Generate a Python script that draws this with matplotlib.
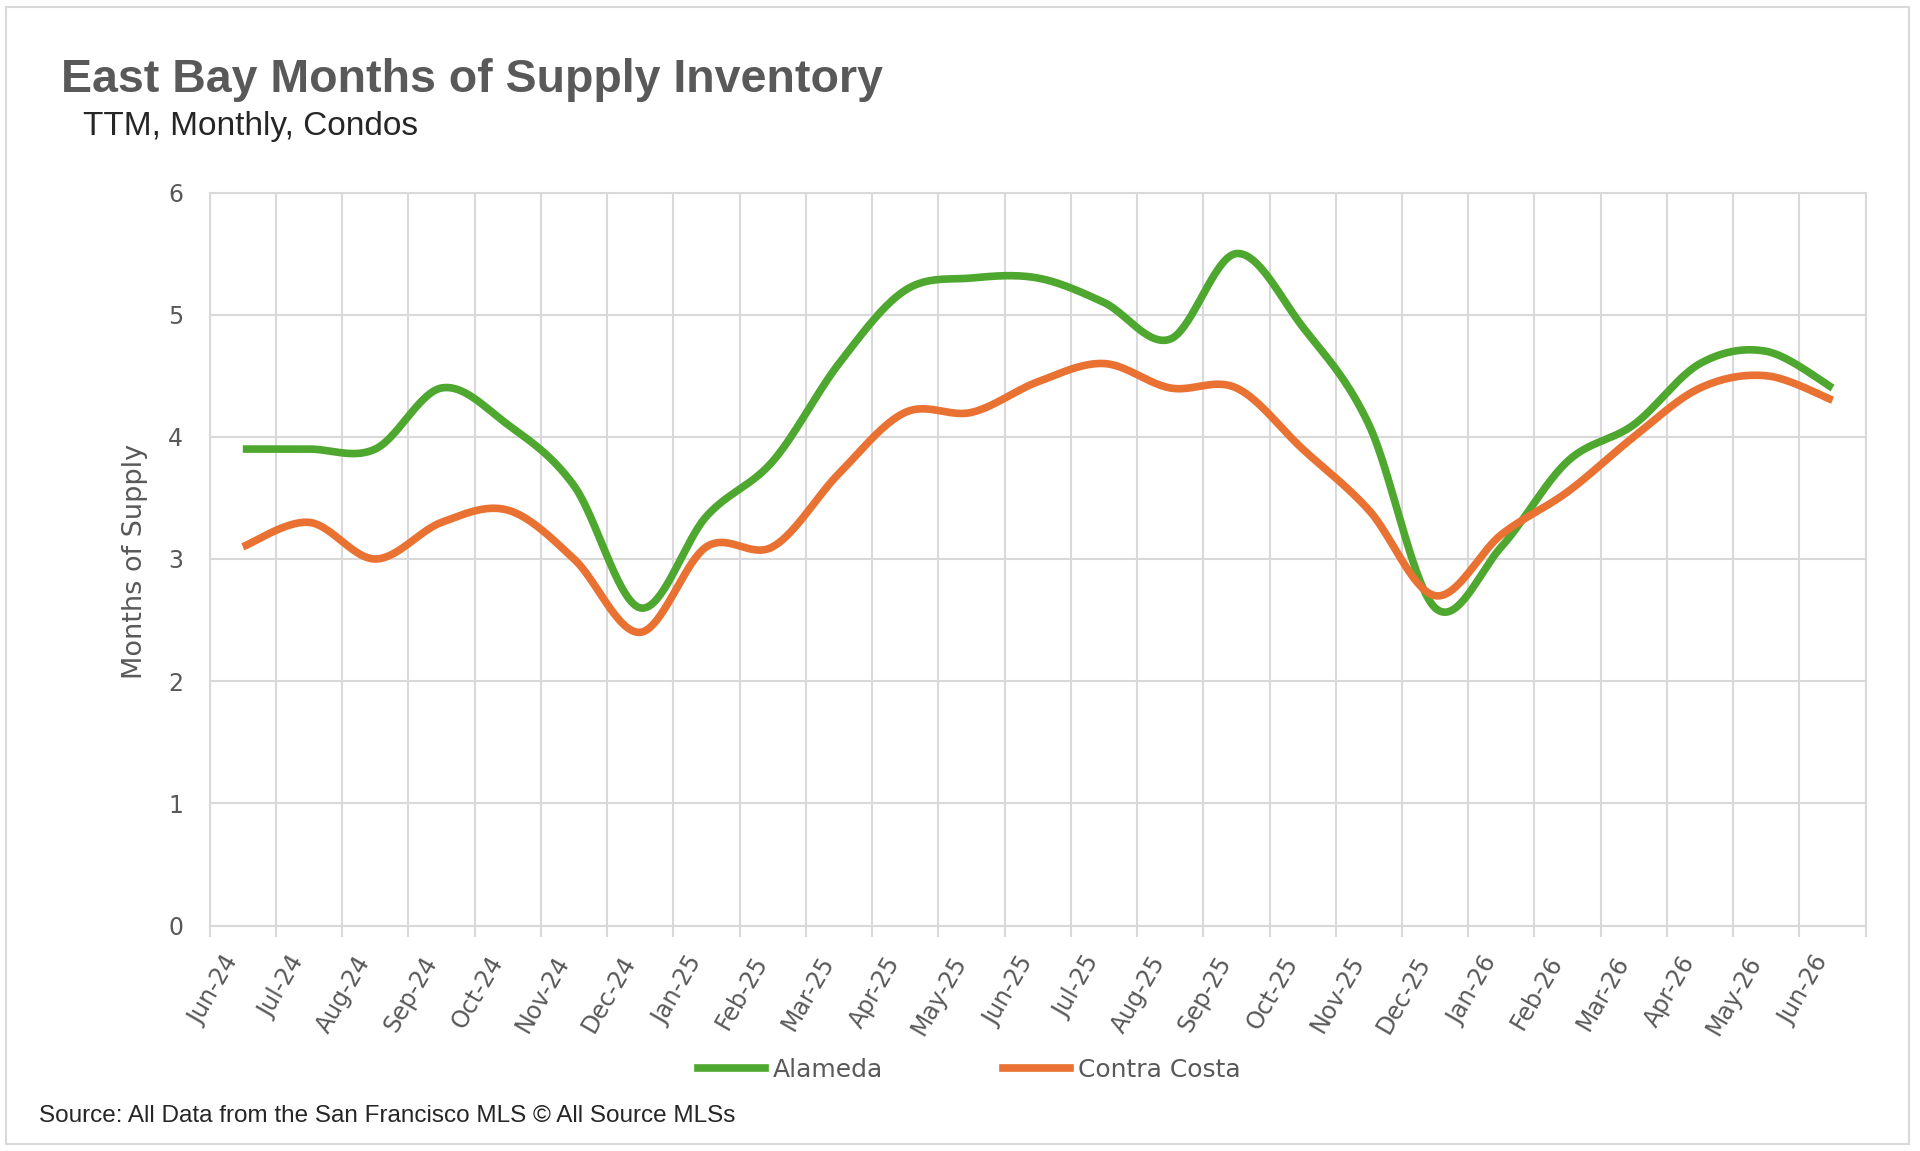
import numpy as np
import matplotlib
matplotlib.use('Agg')
import matplotlib.pyplot as plt
import matplotlib.transforms as mtransforms
from matplotlib.patches import Rectangle
from matplotlib.lines import Line2D

# ---------------- data ----------------
months = ['Jun-24', 'Jul-24', 'Aug-24', 'Sep-24', 'Oct-24', 'Nov-24', 'Dec-24',
          'Jan-25', 'Feb-25', 'Mar-25', 'Apr-25', 'May-25', 'Jun-25', 'Jul-25',
          'Aug-25', 'Sep-25', 'Oct-25', 'Nov-25', 'Dec-25', 'Jan-26', 'Feb-26',
          'Mar-26', 'Apr-26', 'May-26', 'Jun-26']
alameda = [3.9, 3.9, 3.9, 4.4, 4.1, 3.6, 2.6, 3.35, 3.8, 4.6, 5.2, 5.3, 5.3,
           5.1, 4.8, 5.5, 4.9, 4.1, 2.6, 3.1, 3.8, 4.1, 4.6, 4.7, 4.4]
contra_costa = [3.1, 3.3, 3.0, 3.3, 3.4, 3.0, 2.4, 3.1, 3.1, 3.7, 4.2, 4.2, 4.45,
                4.6, 4.4, 4.4, 3.9, 3.4, 2.7, 3.2, 3.55, 4.0, 4.4, 4.5, 4.3]
series_names = ['Alameda', 'Contra Costa']
yticks = [0, 1, 2, 3, 4, 5, 6]

title = 'East Bay Months of Supply Inventory'
subtitle = 'TTM, Monthly, Condos'
ylabel = 'Months of Supply'
source = 'Source: All Data from the San Francisco MLS \u00a9 All Source MLSs'

# ---------------- style ----------------
GREEN = '#4EA72E'
ORANGE = '#E97132'
GRID = '#d9d9d9'
TXT = '#595959'
W, H = 1920, 1151


def smooth(values, n=40):
    """Excel-like smoothed line (Bezier through the data points)."""
    y = np.asarray(values, float)
    x = np.arange(len(y), dtype=float)
    pts = np.column_stack([x, y])
    P = np.vstack([pts[0], pts, pts[-1]])
    t = np.linspace(0, 1, n)[:, None]
    out = []
    for i in range(1, len(P) - 2):
        p0, p1, p2, p3 = P[i - 1], P[i], P[i + 1], P[i + 2]
        c1 = p1 + (p2 - p0) / 6.0
        c2 = p2 - (p3 - p1) / 6.0
        seg = ((1 - t) ** 3) * p1 + 3 * ((1 - t) ** 2) * t * c1 \
            + 3 * (1 - t) * t ** 2 * c2 + t ** 3 * p2
        out.append(seg if i == 1 else seg[1:])
    out = np.vstack(out)
    return out[:, 0], out[:, 1]


fig = plt.figure(figsize=(W / 100, H / 100), dpi=100)
fig.patch.set_facecolor('white')

# outer border
fig.add_artist(Rectangle((6 / W, 1 - 1144 / H), (1909 - 6) / W, (1144 - 7) / H,
                         transform=fig.transFigure, fill=False,
                         edgecolor=GRID, lw=1.5))

left, right, top, bottom = 209.7, 1865.7, 192.5, 925.5
ax = fig.add_axes([left / W, 1 - bottom / H, (right - left) / W, (bottom - top) / H])

n = len(months)
ax.set_xlim(-0.5, n - 0.5)
ax.set_ylim(yticks[0], yticks[-1])

xs, ys = smooth(alameda)
ax.plot(xs, ys, color=GREEN, lw=5.5, solid_capstyle='butt', zorder=3)
xs, ys = smooth(contra_costa)
ax.plot(xs, ys, color=ORANGE, lw=5.5, solid_capstyle='butt', zorder=4)

# ticks / grid
ax.set_xticks(np.arange(-0.5, n, 1.0))
ax.set_xticklabels([])
ax.set_xticks(np.arange(n), minor=True)
ax.set_xticklabels(months, minor=True, rotation=60, ha='right', va='top',
                   fontsize=17, color=TXT, family='DejaVu Sans')
shift = mtransforms.ScaledTranslation(12 / 100, 0, fig.dpi_scale_trans)
for lab in ax.get_xticklabels(minor=True):
    lab.set_transform(lab.get_transform() + shift)
ax.tick_params(axis='x', which='major', length=8, width=1.5, color=GRID,
               direction='out', labelbottom=False)
ax.tick_params(axis='x', which='minor', length=0, pad=19)
ax.set_yticks(yticks)
ax.set_yticklabels([str(v) for v in yticks], fontsize=17, color=TXT,
                   family='DejaVu Sans')
ax.tick_params(axis='y', length=0, pad=19)
ax.grid(axis='x', which='major', color=GRID, lw=1.5)
ax.grid(axis='y', which='major', color=GRID, lw=1.5)
ax.set_axisbelow(True)
for s in ax.spines.values():
    s.set_color(GRID)
    s.set_linewidth(1.5)

# texts
fig.text(61 / W, 1 - 92 / H, title, fontsize=33.5, fontweight='bold', color=TXT,
         family='Liberation Sans', ha='left', va='baseline')
fig.text(83 / W, 1 - 135 / H, subtitle, fontsize=24, color='#262626',
         family='Liberation Sans', ha='left', va='baseline')
fig.text(135 / W, 1 - 561 / H, ylabel, fontsize=19.5, color=TXT, rotation=90,
         family='DejaVu Sans', ha='center', va='center')
fig.text(39 / W, 1 - 1121.5 / H, source, fontsize=17.5, color='#262626',
         family='Liberation Sans', ha='left', va='baseline')

handles = [Line2D([], [], color=GREEN, lw=5.5),
           Line2D([], [], color=ORANGE, lw=5.5)]
fig.legend(handles, series_names, loc='center',
           bbox_to_anchor=(969 / W, 1 - 1070 / H), ncol=2, frameon=False,
           prop={'family': 'DejaVu Sans', 'size': 18}, labelcolor=TXT,
           handlelength=2.7, handletextpad=0.3, columnspacing=4.8)

fig.savefig('out.png', dpi=100)
